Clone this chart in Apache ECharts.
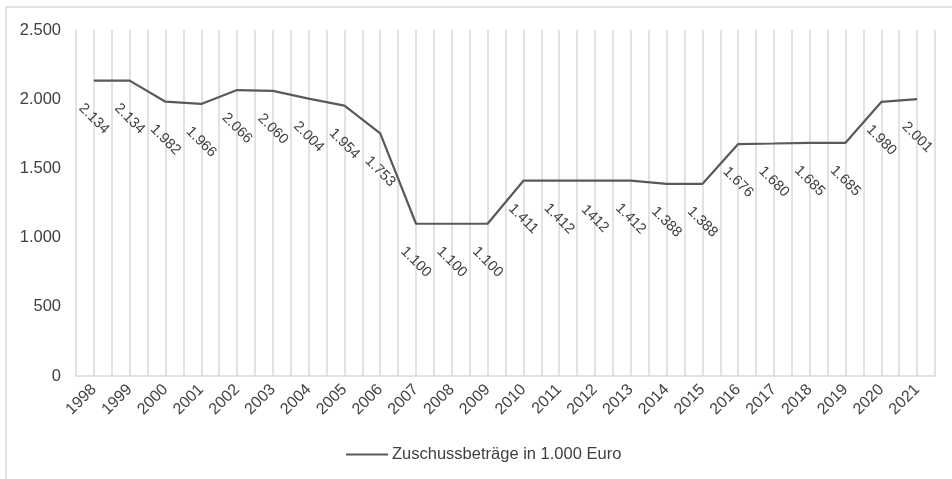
<!DOCTYPE html>
<html>
<head>
<meta charset="utf-8">
<script src="https://cdn.jsdelivr.net/npm/echarts@6/dist/echarts.min.js"></script>
<style>
  html, body { margin: 0; padding: 0; background: #fff; }
  #chart { width: 952px; height: 479px; }
</style>
</head>
<body>
<div id="chart"></div>
<script>
const years = ['1998', '1999', '2000', '2001', '2002', '2003', '2004', '2005', '2006', '2007', '2008', '2009',
  '2010', '2011', '2012', '2013', '2014', '2015', '2016', '2017', '2018', '2019', '2020', '2021'];
const amounts = [2134, 2134, 1982, 1966, 2066, 2060, 2004, 1954, 1753, 1100, 1100, 1100,
  1411, 1412, 1412, 1412, 1388, 1388, 1676, 1680, 1685, 1685, 1980, 2001];
// labels as printed in the original (2012 has no thousands dot)
const pointLabels = ['2.134', '2.134', '1.982', '1.966', '2.066', '2.060', '2.004', '1.954', '1.753', '1.100', '1.100', '1.100',
  '1.411', '1.412', '1412', '1.412', '1.388', '1.388', '1.676', '1.680', '1.685', '1.685', '1.980', '2.001'];
const seriesName = 'Zuschussbeträge in 1.000 Euro';

const fmt = v => String(v).replace(/\B(?=(\d{3})+(?!\d))/g, '.');

const chart = echarts.init(document.getElementById('chart'));
const font = 'Liberation Sans, Arial, sans-serif';

const option = {
  animation: false,
  textStyle: { fontFamily: font },
  graphic: [{
    type: 'rect',
    shape: { x: 6, y: 7, width: 1200, height: 1200 },
    style: { fill: 'none', stroke: '#d9d9d9', lineWidth: 1.5 },
    silent: true
  }],
  grid: { left: 76, right: 17, top: 30, bottom: 103 },
  legend: {
    left: 346,
    top: 446,
    padding: 0,
    itemWidth: 42,
    itemHeight: 14,
    itemGap: 4,
    icon: 'path://M0,6 L42,6 L42,8 L0,8 Z',
    textStyle: { fontSize: 16.5, color: '#404040', fontFamily: font, padding: [0, 0, 0, -1] },
    data: [seriesName]
  },
  xAxis: [{
    type: 'category',
    data: years,
    boundaryGap: true,
    axisLine: { lineStyle: { color: '#d9d9d9', width: 1.5 } },
    axisTick: { show: false },
    splitLine: { show: false },
    axisLabel: { rotate: 45, fontSize: 16, color: '#404040', margin: 11, fontFamily: font, interval: 0 }
  }, {
    type: 'value',
    min: 0,
    max: 48,
    interval: 1,
    show: true,
    axisLine: { show: false },
    axisTick: { show: false },
    axisLabel: { show: false },
    splitLine: { show: true, lineStyle: { color: '#d9d9d9', width: 1.5 } }
  }],
  yAxis: {
    type: 'value',
    min: 0,
    max: 2500,
    interval: 500,
    axisLine: { show: false },
    axisTick: { show: false },
    splitLine: { show: false },
    axisLabel: { fontSize: 16.5, color: '#404040', margin: 15, fontFamily: font, formatter: fmt }
  },
  series: [{
    name: seriesName,
    type: 'line',
    xAxisIndex: 0,
    data: amounts,
    symbol: 'circle',
    symbolSize: 0.1,
    itemStyle: { color: '#595959' },
    lineStyle: { color: '#595959', width: 2.2 },
    label: {
      show: true,
      position: 'inside',
      rotate: -45,
      offset: [27, 27],
      align: 'center',
      verticalAlign: 'middle',
      fontSize: 14.5,
      color: '#404040',
      fontFamily: font,
      formatter: p => pointLabels[p.dataIndex]
    }
  }]
};

chart.setOption(option);
</script>
</body>
</html>
